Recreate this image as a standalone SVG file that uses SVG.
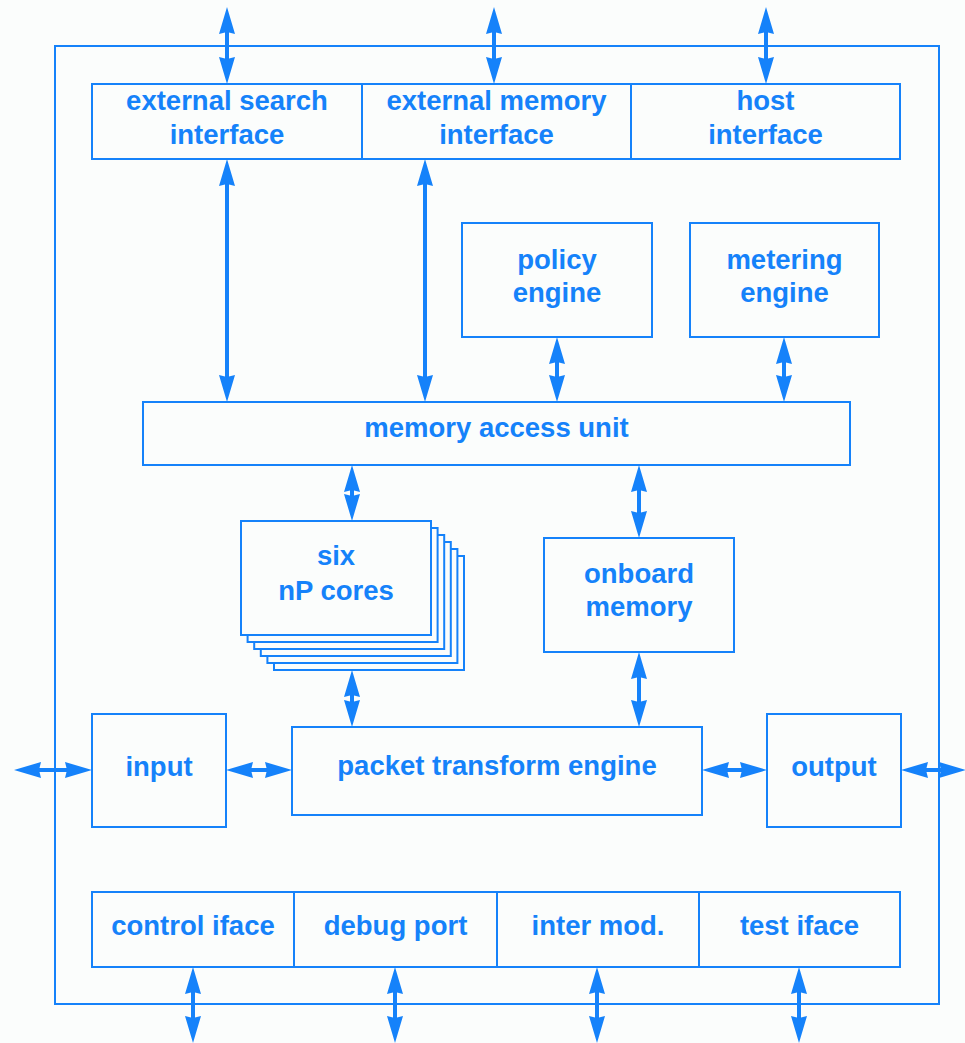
<svg xmlns="http://www.w3.org/2000/svg" width="965" height="1043" viewBox="0 0 965 1043">
<style>
.box{fill:#fbfdfc;stroke:#1582fa;stroke-width:2}
.frame{fill:none;stroke:#1582fa;stroke-width:2}
.lbl{font-family:"Liberation Sans",Arial,Helvetica,sans-serif;font-weight:bold;font-size:27.5px;fill:#1582fa;text-anchor:middle}
.arr{stroke:#1582fa;stroke-width:4;fill:none;marker-start:url(#ah);marker-end:url(#ah)}
</style>
<defs>
<marker id="ah" viewBox="0 0 27 16" refX="17" refY="8" markerWidth="27" markerHeight="16" markerUnits="userSpaceOnUse" orient="auto-start-reverse">
<path d="M0,0 L27,8 L0,16 L2,8 z" fill="#1582fa"/>
</marker>
</defs>
<rect x="0" y="0" width="965" height="1043" fill="#fbfdfc"/>
<rect id="frame" class="frame" x="55" y="46" width="884" height="958"/>

<g id="ext-search"><rect class="box" x="92" y="84" width="270" height="75"/><text class="lbl" x="227" y="110">external search</text><text class="lbl" x="227" y="144">interface</text></g>
<g id="ext-memory"><rect class="box" x="362" y="84" width="269" height="75"/><text class="lbl" x="496.5" y="110">external memory</text><text class="lbl" x="496.5" y="144">interface</text></g>
<g id="host"><rect class="box" x="631" y="84" width="269" height="75"/><text class="lbl" x="765.5" y="110">host</text><text class="lbl" x="765.5" y="144">interface</text></g>

<g id="policy"><rect class="box" x="462" y="223" width="190" height="114"/><text class="lbl" x="557" y="269">policy</text><text class="lbl" x="557" y="302">engine</text></g>
<g id="metering"><rect class="box" x="690" y="223" width="189" height="114"/><text class="lbl" x="784.5" y="269">metering</text><text class="lbl" x="784.5" y="302">engine</text></g>

<g id="mau"><rect class="box" x="143" y="402" width="707" height="63"/><text class="lbl" x="496.5" y="437">memory access unit</text></g>

<g id="cores">
<rect class="box" x="274" y="556" width="190" height="114"/>
<rect class="box" x="267.4" y="549" width="190" height="114"/>
<rect class="box" x="260.8" y="542" width="190" height="114"/>
<rect class="box" x="254.2" y="535" width="190" height="114"/>
<rect class="box" x="247.6" y="528" width="190" height="114"/>
<rect class="box" x="241" y="521" width="190" height="114"/>
<text class="lbl" x="336" y="565">six</text><text class="lbl" x="336" y="600">nP cores</text>
</g>

<g id="onboard"><rect class="box" x="544" y="538" width="190" height="114"/><text class="lbl" x="639" y="583">onboard</text><text class="lbl" x="639" y="616">memory</text></g>

<g id="input"><rect class="box" x="92" y="714" width="134" height="113"/><text class="lbl" x="159" y="776">input</text></g>
<g id="pte"><rect class="box" x="292" y="727" width="410" height="88"/><text class="lbl" x="497" y="775">packet transform engine</text></g>
<g id="output"><rect class="box" x="767" y="714" width="134" height="113"/><text class="lbl" x="834" y="776">output</text></g>

<g id="control"><rect class="box" x="92" y="892" width="202" height="75"/><text class="lbl" x="193" y="935">control iface</text></g>
<g id="debug"><rect class="box" x="294" y="892" width="203" height="75"/><text class="lbl" x="395.5" y="935">debug port</text></g>
<g id="inter"><rect class="box" x="497" y="892" width="202" height="75"/><text class="lbl" x="598" y="935">inter mod.</text></g>
<g id="test"><rect class="box" x="699" y="892" width="201" height="75"/><text class="lbl" x="799.5" y="935">test iface</text></g>

<g id="connectors">
<line class="arr" x1="227" y1="17" x2="227" y2="74"/>
<line class="arr" x1="494" y1="17" x2="494" y2="74"/>
<line class="arr" x1="766" y1="17" x2="766" y2="74"/>
<line class="arr" x1="227" y1="169" x2="227" y2="392"/>
<line class="arr" x1="425" y1="169" x2="425" y2="392"/>
<line class="arr" x1="557" y1="347" x2="557" y2="392"/>
<line class="arr" x1="784" y1="347" x2="784" y2="392"/>
<line class="arr" x1="352" y1="475" x2="352" y2="511"/>
<line class="arr" x1="639" y1="475" x2="639" y2="528"/>
<line class="arr" x1="352" y1="680" x2="352" y2="717"/>
<line class="arr" x1="639" y1="662" x2="639" y2="717"/>
<line class="arr" x1="24" y1="770" x2="82" y2="770"/>
<line class="arr" x1="236" y1="770" x2="282" y2="770"/>
<line class="arr" x1="712" y1="770" x2="757" y2="770"/>
<line class="arr" x1="911" y1="770" x2="956" y2="770"/>
<line class="arr" x1="193" y1="977" x2="193" y2="1033"/>
<line class="arr" x1="395" y1="977" x2="395" y2="1033"/>
<line class="arr" x1="597" y1="977" x2="597" y2="1033"/>
<line class="arr" x1="799" y1="977" x2="799" y2="1033"/>
</g>
</svg>
